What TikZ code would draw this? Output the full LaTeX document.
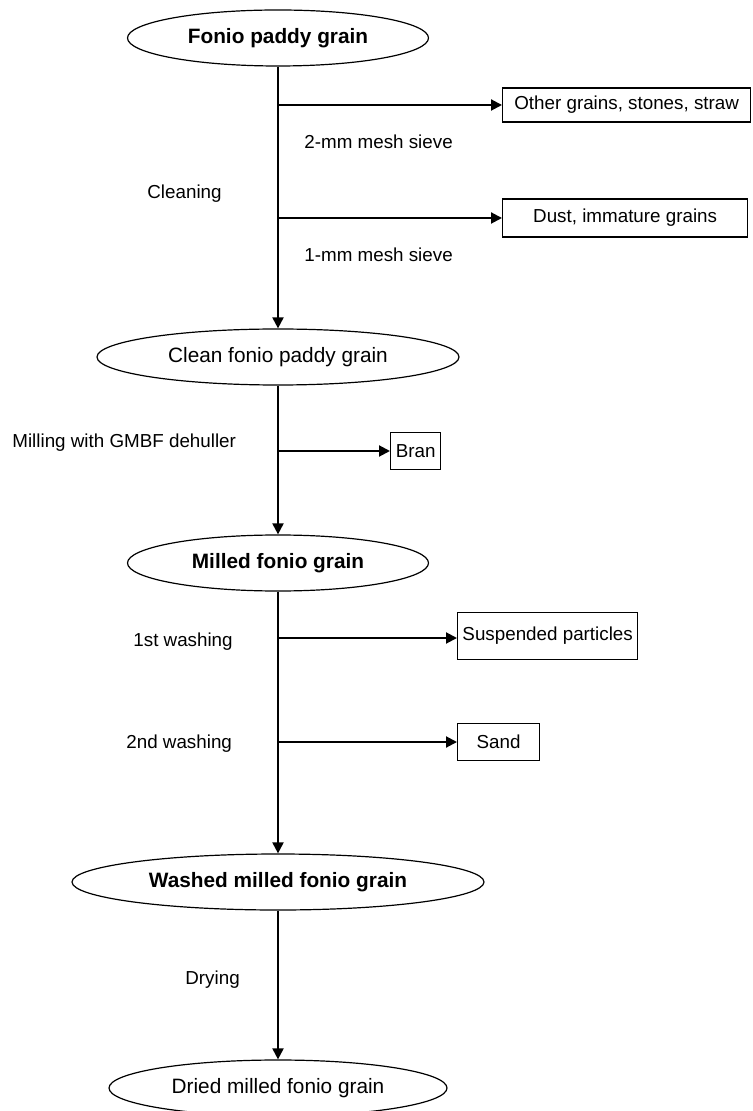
\documentclass[tikz,border=0pt]{standalone}
\usepackage{fontspec}
\setmainfont{Liberation Sans}
\usetikzlibrary{shapes.geometric, positioning, arrows.meta}

\begin{document}
\begin{tikzpicture}[x=0.5pt, y=-0.5pt, on grid,
  >={Triangle[length=5.5pt, width=5.5pt]},
  grain/.style={draw, ellipse, line width=0.6pt, inner sep=0pt,
    minimum height=28pt, font=\fontsize{10.4pt}{12pt}\selectfont},
  waste/.style={draw, rectangle, line width=0.65pt, inner sep=0pt,
    anchor=west, minimum height=18.5pt, font=\fontsize{9.4pt}{11pt}\selectfont},
  note/.style={anchor=west, inner sep=0pt, font=\fontsize{9.4pt}{11pt}\selectfont},
  flow/.style={line width=1pt}]
  \useasboundingbox (0,0) rectangle (753,1111);

  % main line
  \node[grain, minimum width=150.5pt] (fpg) at (278,38) {\textbf{Fonio paddy grain}};
  \node[grain, minimum width=181pt] (cfpg) [below=159.5pt of fpg] {Clean fonio paddy grain};
  \node[grain, minimum width=150.5pt] (mfg) [below=103pt of cfpg] {\textbf{Milled fonio grain}};
  \node[grain, minimum width=206pt] (wmfg) [below=159.5pt of mfg] {\textbf{Washed milled fonio grain}};
  \node[grain, minimum width=169pt] (dmfg) [below=103pt of wmfg] {Dried milled fonio grain};

  % branch points
  \coordinate (s1) at (278,105);
  \coordinate (s2) at (278,218);
  \coordinate (s3) at (278,451);
  \coordinate (s4) at (278,638);
  \coordinate (s5) at (278,742);

  % by-products
  \node[waste, minimum width=124pt, minimum height=17pt] (ogss) at (502,105) {Other grains, stones, straw};
  \node[waste, minimum width=122.5pt, minimum height=19pt] (dig) at (502,218) {Dust, immature grains};
  \node[waste, minimum width=25pt] (bran) at (390,451) {Bran};
  \node[waste, minimum width=90pt, minimum height=23.5pt] (sp) at (457,636) {Suspended particles};
  \node[waste, minimum width=41pt] (sand) at (457,742) {Sand};

  % operations
  \node[note] (sieve2) at (304,142) {2-mm mesh sieve};
  \node[note] (clean) at (147,194) {Cleaning};
  \node[note] (sieve1) at (304,255) {1-mm mesh sieve};
  \node[note] (mill) at (12,443) {Milling with GMBF dehuller};
  \node[note] (wash1) at (133,642) {1st washing};
  \node[note] (wash2) at (126,744) {2nd washing};
  \node[note] (dry) at (185,980) {Drying};

  \path[flow, ->]
  (fpg) edge (cfpg)
  (cfpg) edge (mfg)
  (mfg) edge (wmfg)
  (wmfg) edge (dmfg)
  (s1) edge (s1 -| ogss.west)
  (s2) edge (s2 -| dig.west)
  (s3) edge (s3 -| bran.west)
  (s4) edge (s4 -| sp.west)
  (s5) edge (s5 -| sand.west);
\end{tikzpicture}
\end{document}
